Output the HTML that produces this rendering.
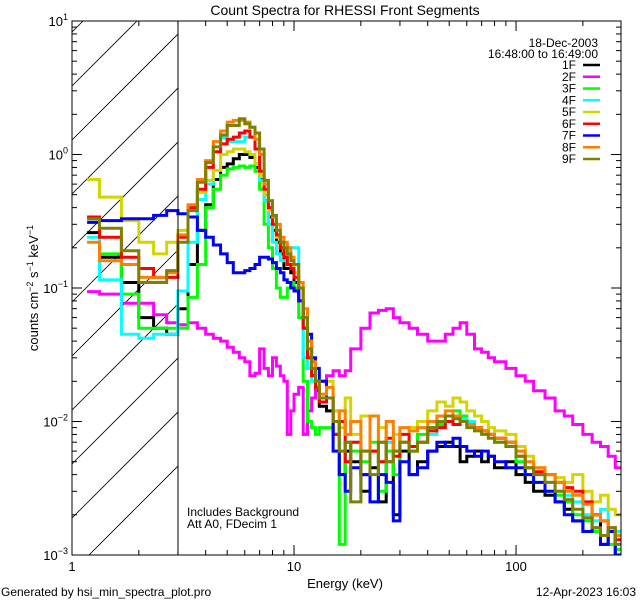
<!DOCTYPE html>
<html><head><meta charset="utf-8"><style>
html,body{margin:0;padding:0;background:#fff;width:640px;height:600px;overflow:hidden}
svg{display:block;font-family:"Liberation Sans",sans-serif;overflow:hidden}
</style></head><body>
<svg id="chart" width="640" height="600" viewBox="0 0 640 600">
<defs><clipPath id="pc"><rect x="72" y="21" width="549" height="534"/></clipPath>
<clipPath id="hc"><rect x="72" y="21" width="106" height="534"/></clipPath></defs>
<text x="345" y="15" font-size="14" text-anchor="middle">Count Spectra for RHESSI Front Segments</text>
<g id="hatch" clip-path="url(#hc)"></g>
<g id="series" clip-path="url(#pc)"></g>
<line x1="178" y1="21" x2="178" y2="555" stroke="#000" stroke-width="1"/>
<rect x="72" y="21" width="549" height="534" fill="none" stroke="#000" stroke-width="1"/>
<g id="axes"></g>
<text x="345" y="588" font-size="13" text-anchor="middle">Energy (keV)</text>
<text transform="translate(38,288) rotate(-90)" font-size="13" text-anchor="middle">counts cm<tspan font-size="9" dy="-5">−2</tspan><tspan dy="5"> s</tspan><tspan font-size="9" dy="-5">−1</tspan><tspan dy="5"> keV</tspan><tspan font-size="9" dy="-5">−1</tspan></text>
<text x="187" y="516" font-size="12">Includes Background</text>
<text x="187" y="528" font-size="12">Att A0, FDecim 1</text>
<text x="598" y="47" font-size="12" text-anchor="end">18-Dec-2003</text>
<text x="598" y="58" font-size="12" text-anchor="end">16:48:00 to 16:49:00</text>
<g id="legend"></g>
<text x="1" y="596" font-size="12">Generated by hsi_min_spectra_plot.pro</text>
<text x="636" y="596" font-size="12" text-anchor="end">12-Apr-2023 16:03</text>
</svg>
<script>
const edges=[1.17,1.33,1.67,2,2.33,2.67,3,3.33,3.67,4,4.33,4.67,5,5.33,5.67,6,6.33,6.67,7,7.33,7.67,8,8.33,8.67,9,9.33,9.67,10,10.5,11,11.5,12,12.5,13,14,15,16,17,18,20,22,24,26,28,30,33,36,40,44,48,52,56,60,65,70,75,80,90,100,110,120,135,150,165,180,200,220,240,260,280,297];
const seriesNames=["1F","2F","3F","4F","5F","6F","7F","8F","9F"];
const seriesColors=["#000000","#ff00ff","#00ff00","#00ffff","#d4d400","#ff0000","#0000ff","#ff8000","#808000"];
const s1F=[0.26,0.17,0.11,0.06,0.05,0.045, 0.07,0.15,0.27,0.42,0.65,0.8,0.85,0.93,1.0,1.0,0.95,0.8,0.65,0.45,0.34,0.27,0.22,0.18,0.14,0.14,0.13, 0.11,0.08,0.05,0.03,0.022,0.017,0.013, 0.012,0.008,0.004,0.006,0.005,0.003,0.0045,0.0025,0.005,0.002,0.006,0.004,0.005,0.006,0.0065,0.007,0.0065,0.005,0.0055,0.006,0.005,0.0055,0.0045,0.005,0.004,0.0035,0.003,0.0028,0.0025,0.0022,0.0018,0.0015,0.002,0.0012,0.0015,0.001];
const s2F=[0.094,0.09,0.077,0.077,0.063,0.055, 0.053,0.055,0.05,0.045,0.042,0.04,0.036,0.033,0.03,0.028,0.022,0.023,0.035,0.025,0.022,0.03,0.026,0.022,0.02,0.008,0.012, 0.016,0.018,0.008,0.012,0.015,0.02,0.02, 0.022,0.024,0.022,0.024,0.035,0.05,0.065,0.068,0.07,0.06,0.055,0.05,0.045,0.04,0.04,0.045,0.05,0.055,0.045,0.035,0.033,0.03,0.028,0.025,0.022,0.02,0.017,0.015,0.012,0.011,0.0095,0.008,0.007,0.0065,0.0055,0.0045];
const s3F=[0.33,0.18,0.09,0.05,0.05,0.05, 0.05,0.085,0.15,0.4,0.55,0.7,0.78,0.8,0.82,0.8,0.82,0.75,0.55,0.3,0.2,0.14,0.1,0.085,0.085,0.1,0.11, 0.1,0.06,0.02,0.01,0.009,0.008,0.009, 0.009,0.012,0.0012,0.007,0.006,0.005,0.007,0.003,0.006,0.004,0.007,0.006,0.008,0.009,0.0095,0.011,0.012,0.011,0.01,0.009,0.0085,0.008,0.007,0.0065,0.005,0.004,0.0035,0.003,0.0028,0.0025,0.002,0.0018,0.0015,0.0014,0.0012,0.0011];
const s4F=[0.24,0.115,0.045,0.042,0.045,0.045, 0.095,0.22,0.46,0.6,1.05,1.33,1.25,1.25,1.25,1.35,1.35,1.1,0.64,0.45,0.3,0.22,0.18,0.16,0.16,0.2,0.2, 0.2,0.08,0.03,0.025,0.02,0.018,0.015, 0.015,0.01,0.006,0.005,0.007,0.004,0.006,0.005,0.007,0.006,0.007,0.0065,0.007,0.008,0.009,0.01,0.011,0.0105,0.01,0.009,0.0085,0.008,0.0075,0.007,0.006,0.005,0.004,0.0035,0.003,0.0028,0.0025,0.002,0.0018,0.0022,0.0016,0.0015];
const s5F=[0.65,0.48,0.32,0.22,0.18,0.22, 0.27,0.4,0.52,0.64,0.76,1.0,1.05,1.1,1.1,1.05,1.0,0.86,0.7,0.5,0.38,0.3,0.24,0.2,0.18,0.15,0.15, 0.13,0.1,0.06,0.04,0.028,0.02,0.016, 0.02,0.012,0.009,0.015,0.008,0.011,0.006,0.009,0.005,0.008,0.007,0.009,0.01,0.012,0.014,0.013,0.015,0.014,0.012,0.011,0.01,0.009,0.0085,0.008,0.0065,0.0055,0.0045,0.004,0.0038,0.0035,0.004,0.003,0.0025,0.0028,0.0022,0.002];
const s6F=[0.34,0.24,0.17,0.14,0.12,0.12, 0.24,0.4,0.55,0.8,1.05,1.2,1.3,1.35,1.45,1.5,1.35,1.1,0.75,0.55,0.4,0.3,0.25,0.2,0.17,0.15,0.14, 0.12,0.08,0.05,0.03,0.022,0.018,0.014, 0.015,0.008,0.01,0.005,0.007,0.004,0.006,0.005,0.0075,0.0055,0.008,0.0065,0.007,0.0085,0.009,0.01,0.0095,0.01,0.0095,0.009,0.0085,0.008,0.0075,0.007,0.0055,0.0045,0.0042,0.004,0.0035,0.0032,0.003,0.0025,0.002,0.0018,0.0016,0.0013];
const s7F=[0.31,0.32,0.33,0.33,0.35,0.38, 0.36,0.34,0.27,0.24,0.21,0.18,0.155,0.13,0.13,0.135,0.14,0.15,0.17,0.17,0.165,0.155,0.14,0.13,0.115,0.11,0.1, 0.095,0.08,0.06,0.045,0.03,0.025,0.02, 0.015,0.006,0.004,0.003,0.0045,0.004,0.0025,0.004,0.0035,0.0018,0.005,0.004,0.0045,0.006,0.007,0.0065,0.0075,0.0065,0.006,0.0055,0.006,0.0055,0.005,0.0045,0.0045,0.004,0.0035,0.003,0.0025,0.002,0.0018,0.0015,0.0016,0.0012,0.0015,0.001];
const s8F=[0.22,0.16,0.15,0.12,0.12,0.13, 0.25,0.42,0.65,0.9,1.25,1.5,1.75,1.8,1.8,1.75,1.6,1.3,1.0,0.6,0.45,0.34,0.3,0.24,0.22,0.2,0.17, 0.15,0.11,0.07,0.04,0.028,0.02,0.016, 0.018,0.01,0.012,0.008,0.01,0.006,0.011,0.007,0.01,0.006,0.009,0.0085,0.009,0.01,0.011,0.012,0.011,0.01,0.0095,0.009,0.0085,0.008,0.0075,0.007,0.006,0.005,0.0045,0.004,0.0035,0.003,0.0028,0.0024,0.002,0.0018,0.0016,0.0014];
const s9F=[0.33,0.28,0.19,0.11,0.11,0.135, 0.22,0.38,0.62,0.87,1.14,1.4,1.65,1.65,1.85,1.7,1.6,1.45,1.1,0.64,0.45,0.35,0.27,0.22,0.2,0.18,0.16, 0.15,0.1,0.06,0.035,0.025,0.02,0.015, 0.015,0.01,0.006,0.007,0.0025,0.006,0.004,0.007,0.005,0.006,0.007,0.006,0.007,0.009,0.01,0.011,0.0105,0.01,0.009,0.0085,0.008,0.0075,0.007,0.0065,0.0055,0.0045,0.004,0.0035,0.003,0.0026,0.0022,0.0019,0.0016,0.0014,0.0016,0.0012];
const seriesValues=[s1F,s2F,s3F,s4F,s5F,s6F,s7F,s8F,s9F];
const xTickValues=[1,10,100];
const xTickLabels=["1","10","100"];
const yTickExps=[1,0,-1,-2,-3];

const NS="http://www.w3.org/2000/svg";
const L=72,R=621,T=21,B=555,XMIN=1,XMAX=297,YMAX=10,YMIN=0.001;
function xs(e){return L+(R-L)*(Math.log10(e)-Math.log10(XMIN))/(Math.log10(XMAX)-Math.log10(XMIN));}
function ys(v){v=Math.max(v,YMIN*0.5);return T+(B-T)*(Math.log10(YMAX)-Math.log10(v))/(Math.log10(YMAX)-Math.log10(YMIN));}
function mk(tag,attrs,parent){const el=document.createElementNS(NS,tag);for(const k in attrs)el.setAttribute(k,attrs[k]);parent.appendChild(el);return el;}

const hatch=document.getElementById('hatch');
for(let k=-12;k<10;k++){
  const y0=86+54*k;
  const ln=mk('line',{x1:72,y1:y0,x2:72+120,y2:y0-120,stroke:'#000','stroke-width':0.8},hatch);
  
  
}

const sg=document.getElementById('series');
seriesValues.forEach((vals,si)=>{
  let d='';
  for(let i=0;i<vals.length;i++){
    const y=ys(vals[i]).toFixed(1);
    d+=(i===0?'M':'L')+xs(edges[i]).toFixed(1)+','+y+'L'+xs(edges[i+1]).toFixed(1)+','+y;
  }
  const p=mk('path',{d:d,fill:'none',stroke:seriesColors[si],'stroke-width':3,'stroke-linejoin':'miter'},sg);
  
  
});

const ax=document.getElementById('axes');
for(let dec=0;dec<3;dec++){
  for(let m=1;m<10;m++){
    const e=Math.pow(10,dec)*m; if(e>XMAX) break;
    const x=xs(e); const len=(m===1)?10:5;
    mk('line',{x1:x,y1:B,x2:x,y2:B-len,stroke:'#000','stroke-width':1},ax);
    mk('line',{x1:x,y1:T,x2:x,y2:T+len,stroke:'#000','stroke-width':1},ax);
  }
}
xTickValues.forEach((v,i)=>{
  const t=mk('text',{x:xs(v),y:571,'font-size':13,'text-anchor':'middle'},ax);
  t.textContent=xTickLabels[i];
  
  
});
for(let ex=-3;ex<1;ex++){
  for(let m=1;m<10;m++){
    const v=Math.pow(10,ex)*m; const y=ys(v); const len=(m===1)?10:5;
    mk('line',{x1:L,y1:y,x2:L+len,y2:y,stroke:'#000','stroke-width':1},ax);
    mk('line',{x1:R,y1:y,x2:R-len,y2:y,stroke:'#000','stroke-width':1},ax);
  }
}
yTickExps.forEach(ex=>{
  const y=ys(Math.pow(10,ex));
  const t=mk('text',{x:L-4,y:y+5,'font-size':13,'text-anchor':'end'},ax);
  
  
  const base=document.createElementNS(NS,'tspan');base.textContent='10';t.appendChild(base);
  const sup=document.createElementNS(NS,'tspan');sup.setAttribute('font-size','9');sup.setAttribute('dy','-6');
  sup.textContent=(ex<0?'−':'')+Math.abs(ex);t.appendChild(sup);
});

const lg=document.getElementById('legend');
seriesNames.forEach((n,i)=>{
  const y=65+11.75*i;
  const t=mk('text',{x:576,y:y+4,'font-size':12,'text-anchor':'end'},lg);
  t.textContent=n;
  
  
  const l=mk('line',{x1:583,y1:y,x2:600,y2:y,stroke:seriesColors[i],'stroke-width':2.5},lg);
  
  
});
</script>
</body></html>
